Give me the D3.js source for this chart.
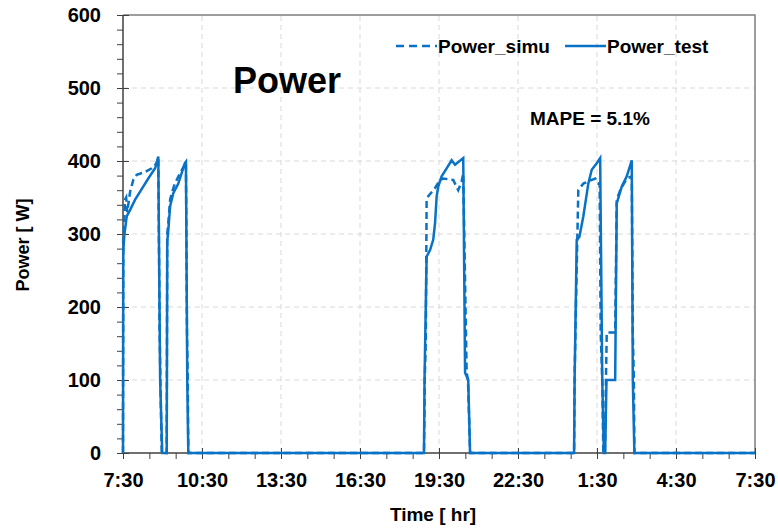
<!DOCTYPE html>
<html><head><meta charset="utf-8">
<script src="https://cdn.jsdelivr.net/npm/d3@7"></script>
<style>
body{margin:0;background:#fff;}
svg{display:block;font-family:"Liberation Sans",Arial,sans-serif;}
</style></head>
<body><svg id="c" width="778" height="529"></svg>
<script>
// ---- data ----
const yTickValues = [0, 100, 200, 300, 400, 500, 600];
const xTickLabels = ["7:30", "10:30", "13:30", "16:30", "19:30", "22:30", "1:30", "4:30", "7:30"];
// hours elapsed since 7:30
const hoursTest = [0, 0.01, 0.05, 0.14, 0.27, 0.46, 0.65, 0.96, 1.22, 1.34, 1.41, 1.49,
  1.66, 1.68, 1.72, 1.79, 1.91, 2.10, 2.35, 2.39, 2.44, 2.48,
  11.43, 11.45, 11.53, 11.66, 11.78, 11.85, 11.91, 11.97, 12.10, 12.29, 12.48, 12.61, 12.92, 12.99, 13.11, 13.18,
  17.13, 17.15, 17.23, 17.33, 17.48, 17.67, 17.80, 17.99, 18.12, 18.20, 18.26, 18.31, 18.36, 18.69, 18.75, 18.94, 19.13, 19.32, 19.36, 19.42, 24];
const powerTest = [0, 275, 298, 324, 333, 347, 358, 376, 390, 406, 100, 0,
  0, 290, 305, 338, 356, 369, 397, 399, 100, 0,
  0, 100, 269, 278, 292, 315, 351, 365, 379, 390, 401, 395, 404, 110, 100, 0,
  0, 100, 292, 296, 324, 369, 388, 397, 404, 100, 0, 0, 100, 100, 342, 365, 379, 401, 100, 0, 0];
const hoursSimu = [0, 0.01, 0.076, 0.12, 0.16, 0.27, 0.39, 0.52, 0.84, 1.09, 1.28, 1.34, 1.39, 1.42, 1.47,
  1.66, 1.68, 1.72, 1.79, 1.85, 1.97, 2.16, 2.35, 2.39, 2.43, 2.46, 2.48,
  11.43, 11.46, 11.50, 11.53, 11.60, 11.85, 12.04, 12.16, 12.54, 12.73, 12.86, 12.92, 13.05, 13.10, 13.18,
  17.13, 17.15, 17.18, 17.29, 17.48, 17.67, 17.93, 18.05, 18.10, 18.14, 18.20, 18.24, 18.30, 18.34, 18.37, 18.69, 18.75, 18.88, 19.13, 19.32, 19.36, 19.40, 19.42, 24];
const powerSimu = [0, 287, 347, 350, 330, 358, 374, 381, 385, 390, 397, 405, 170, 100, 0,
  0, 300, 315, 347, 356, 369, 383, 395, 398, 165, 100, 0,
  0, 100, 160, 347, 352, 363, 374, 376, 374, 360, 372, 383, 110, 100, 0,
  0, 100, 165, 360, 369, 372, 376, 369, 370, 165, 100, 0, 0, 100, 165, 165, 347, 360, 376, 379, 165, 100, 0, 0];
const seriesNames = ["Power_simu", "Power_test"];

// ---- chart ----
const svg = d3.select("#c");
const blue = "#0a72c4";
const x = d3.scaleLinear().domain([0, 24]).range([123, 755]);
const y = d3.scaleLinear().domain([0, 600]).range([453, 15]);

// grid
const g = svg.append("g");
g.selectAll("line.hg").data(yTickValues.filter(v => v > 0 && v < 600)).join("line")
  .attr("x1", x(0)).attr("x2", x(24)).attr("y1", d => y(d)).attr("y2", d => y(d))
  .attr("stroke", "#d9d9d9").attr("stroke-width", 1).attr("stroke-dasharray", "5,4");
const majorHours = d3.range(3, 24, 3);
g.selectAll("line.vg").data(majorHours).join("line")
  .attr("x1", d => x(d)).attr("x2", d => x(d)).attr("y1", y(0)).attr("y2", y(600))
  .attr("stroke", "#d9d9d9").attr("stroke-width", 1).attr("stroke-dasharray", "5,4");

// frame top/right
svg.append("path").attr("d", `M${x(0)},${y(600)}H${x(24)}V${y(0)}`)
  .attr("fill", "none").attr("stroke", "#7f7f7f").attr("stroke-width", 1.5);

// y axis minor ticks
const yAxisMinor = d3.axisLeft(y).tickValues(d3.range(0, 601, 20)).tickSize(6).tickFormat("");
const ya = svg.append("g").attr("transform", `translate(${x(0)},0)`).call(yAxisMinor);
ya.select(".domain").remove();
ya.selectAll("line").attr("stroke", "#404040").attr("stroke-width", 1);
const yAxisMajor = d3.axisLeft(y).tickValues(yTickValues).tickSize(6).tickPadding(16);
const yb = svg.append("g").attr("transform", `translate(${x(0)},0)`).call(yAxisMajor);
yb.select(".domain").remove();
yb.selectAll("line").attr("x2", 6).attr("x1", -6).attr("stroke", "#404040");
yb.selectAll("text").attr("font-size", 20).attr("font-weight", "bold").attr("fill", "#000")
  .attr("font-family", "Liberation Sans, Arial, sans-serif");

// x axis
const xAxisMinor = d3.axisBottom(x).tickValues(d3.range(0, 25, 1)).tickSize(6).tickFormat("");
const xa = svg.append("g").attr("transform", `translate(0,${y(0)})`).call(xAxisMinor);
xa.select(".domain").remove();
xa.selectAll("line").attr("stroke", "#404040");
const xAxisMajor = d3.axisBottom(x).tickValues(d3.range(0, 25, 3)).tickSize(6).tickPadding(14)
  .tickFormat((d, i) => xTickLabels[i]);
const xb = svg.append("g").attr("transform", `translate(0,${y(0)})`).call(xAxisMajor);
xb.select(".domain").remove();
xb.selectAll("line").attr("y1", -5).attr("stroke", "#404040");
xb.selectAll("text").attr("font-size", 20).attr("font-weight", "bold").attr("fill", "#000")
  .attr("font-family", "Liberation Sans, Arial, sans-serif");

// axis lines
svg.append("line").attr("x1", x(0)).attr("x2", x(0)).attr("y1", y(0)).attr("y2", y(600))
  .attr("stroke", "#404040").attr("stroke-width", 1.5);
svg.append("line").attr("x1", x(0)).attr("x2", x(24)).attr("y1", y(0)).attr("y2", y(0))
  .attr("stroke", "#404040").attr("stroke-width", 1.5);

// series
const line = d3.line().x(d => x(d[0])).y(d => y(d[1]));
const simuPts = hoursSimu.map((h, i) => [h, powerSimu[i]]);
const testPts = hoursTest.map((h, i) => [h, powerTest[i]]);
svg.append("path").datum(simuPts).attr("d", line).attr("fill", "none")
  .attr("stroke", blue).attr("stroke-width", 2.5).attr("stroke-dasharray", "7,4");
svg.append("path").datum(testPts).attr("d", line).attr("fill", "none")
  .attr("stroke", blue).attr("stroke-width", 2.5);

// legend
const lg = svg.append("g");
lg.append("line").attr("x1", 396).attr("x2", 437).attr("y1", 46).attr("y2", 46)
  .attr("stroke", blue).attr("stroke-width", 2.5).attr("stroke-dasharray", "8,5");
lg.append("text").attr("x", 438).attr("y", 53).text(seriesNames[0])
  .attr("font-size", 19).attr("font-weight", "bold");
lg.append("line").attr("x1", 565).attr("x2", 606).attr("y1", 46).attr("y2", 46)
  .attr("stroke", blue).attr("stroke-width", 2.5);
lg.append("text").attr("x", 607).attr("y", 53).text(seriesNames[1])
  .attr("font-size", 19).attr("font-weight", "bold");

// title & annotation
svg.append("text").attr("x", 233).attr("y", 93).text("Power")
  .attr("font-size", 36).attr("font-weight", "bold");
svg.append("text").attr("x", 530).attr("y", 125).text("MAPE = 5.1%")
  .attr("font-size", 19).attr("font-weight", "bold");

// axis titles
svg.append("text").attr("x", 433).attr("y", 521).attr("text-anchor", "middle")
  .text("Time [ hr]").attr("font-size", 19).attr("font-weight", "bold");
svg.append("text").attr("transform", `translate(29,245) rotate(-90)`).attr("text-anchor", "middle")
  .text("Power [ W]").attr("font-size", 18).attr("font-weight", "bold");
</script></body></html>
